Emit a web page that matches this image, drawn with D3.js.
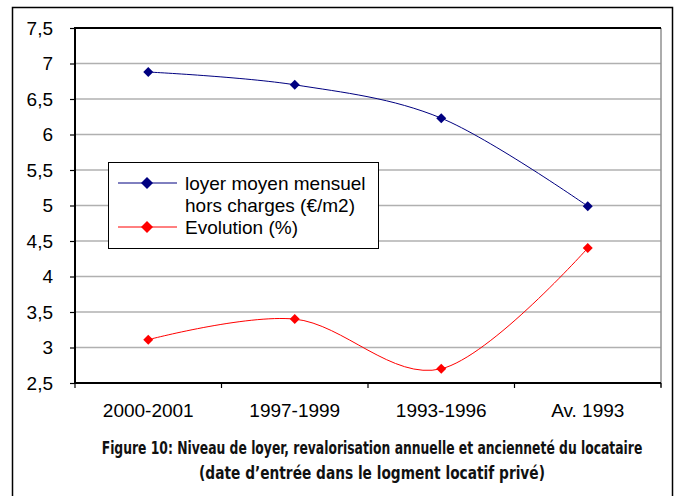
<!DOCTYPE html>
<html>
<head>
<meta charset="utf-8">
<script src="https://cdn.jsdelivr.net/npm/d3@7"></script>
<style>
body { margin:0; background:#fff; }
svg { display:block; }
</style>
</head>
<body>
<div id="chart"></div>
<script>
(function(){

var width = 679,
	height = 496,
	margin = {left:75, right:18, top:28, bottom:113};

// data
var categories = ["2000-2001","1997-1999","1993-1996","Av. 1993"];
var loyer = [6.88, 6.70, 6.23, 4.99];
var evolution = [3.11, 3.40, 2.70, 4.40];
var yTicks = [2.5,3,3.5,4,4.5,5,5.5,6,6.5,7,7.5];
var legendLabels = [["loyer moyen mensuel","hors charges (€/m2)"],["Evolution (%)"]];
var captionLines = ["Figure 10: Niveau de loyer, revalorisation annuelle et ancienneté du locataire",
	"(date d\u2019entrée dans le logment locatif privé)"];

var series = [
	{name:"loyer", values:loyer, color:"#000080"},
	{name:"evolution", values:evolution, color:"#ff0000"}
];

var svg = d3.select("#chart").append("svg")
	.attr("width", width)
	.attr("height", height);

// outer frame
svg.append("rect")
	.attr("x", 12.5).attr("y", 7.5)
	.attr("width", 660).attr("height", 500)
	.style("fill","none").style("stroke","#000").style("stroke-width",1.5);

var x0 = margin.left, x1 = width - margin.right,
	y0 = margin.top, y1 = height - margin.bottom;

var X = d3.scaleBand().domain(categories).range([x0, x1]);
var Y = d3.scaleLinear().domain([2.5,7.5]).range([y1, y0]);

var fmt = function(d){ return d3.format("")(d).replace(".",","); };

// square diamond marker
function diamond(r){
	return "M0,"+(-r)+"L"+r+",0L0,"+r+"L"+(-r)+",0Z";
}

// gridlines
svg.append("g").selectAll("line").data(yTicks.slice(1)).enter().append("line")
	.attr("x1", x0).attr("x2", x1)
	.attr("y1", function(d){return Y(d);}).attr("y2", function(d){return Y(d);})
	.style("stroke","#b0b0b0").style("stroke-width",1.5);

// right border (grey)
svg.append("line")
	.attr("x1", x1).attr("x2", x1).attr("y1", y0).attr("y2", y1+4)
	.style("stroke","#909090").style("stroke-width",1.5);

// y axis
var yAxis = d3.axisLeft(Y).tickValues(yTicks).tickFormat(fmt).tickSize(5).tickPadding(17);
var ga = svg.append("g").attr("transform","translate("+x0+",0)").call(yAxis);
ga.select(".domain").remove();
ga.selectAll("line").style("stroke","#000").style("stroke-width",1.2);
ga.selectAll("text").style("font-family","Liberation Sans, Arial, sans-serif")
	.style("font-size","19px").style("fill","#000");

// x axis ticks at category boundaries
var bounds = categories.map(function(d){return X(d);}).concat([x1]);
svg.append("g").selectAll("line").data(bounds).enter().append("line")
	.attr("x1", function(d){return d;}).attr("x2", function(d){return d;})
	.attr("y1", y1).attr("y2", y1+5)
	.style("stroke","#000").style("stroke-width",1.2);

svg.append("g").selectAll("text").data(categories).enter().append("text")
	.attr("x", function(d){return X(d)+X.bandwidth()/2;})
	.attr("y", y1+34)
	.attr("text-anchor","middle")
	.style("font-family","Liberation Sans, Arial, sans-serif")
	.style("font-size","19px")
	.text(function(d){return d;});

// top, left, bottom borders
svg.append("path")
	.attr("d", "M"+x1+","+y0+"H"+x0+"V"+y1+"H"+x1)
	.style("fill","none").style("stroke","#000").style("stroke-width",2);

// lines
var line = d3.line()
	.x(function(d,i){return X(categories[i])+X.bandwidth()/2;})
	.y(function(d){return Y(d);})
	.curve(d3.curveCatmullRom.alpha(0));

series.forEach(function(s){
	svg.append("path").datum(s.values)
		.attr("d", line)
		.style("fill","none").style("stroke",s.color).style("stroke-width",1);
	svg.append("g").selectAll("path").data(s.values).enter().append("path")
		.attr("d", diamond(5))
		.attr("transform", function(d,i){
			return "translate("+(X(categories[i])+X.bandwidth()/2)+","+Y(d)+")";
		})
		.style("fill", s.color);
});

// legend
var lg = svg.append("g");
lg.append("rect")
	.attr("x",108.5).attr("y",162.5).attr("width",270).attr("height",86)
	.style("fill","#fff").style("stroke","#000").style("stroke-width",1);

var legendRows = [{y:183, lines:legendLabels[0], color:series[0].color},
	{y:227, lines:legendLabels[1], color:series[1].color}];

legendRows.forEach(function(r){
	lg.append("line").attr("x1",118).attr("x2",177).attr("y1",r.y).attr("y2",r.y)
		.style("stroke",r.color).style("stroke-width",1);
	lg.append("path").attr("d", diamond(6))
		.attr("transform","translate(147,"+r.y+")").style("fill",r.color);
	r.lines.forEach(function(t,j){
		lg.append("text").attr("x",185).attr("y",r.y+7+j*22)
			.style("font-family","Liberation Sans, Arial, sans-serif")
			.style("font-size","19px")
			.text(t);
	});
});

// caption: condensed look by scaling horizontally to the widths seen in the figure
var capWidths = [541, 346];
svg.append("g").selectAll("text").data(captionLines).enter().append("text")
	.attr("x", 0)
	.attr("y", 0)
	.attr("text-anchor","middle")
	.style("font-family","DejaVu Sans Condensed, DejaVu Sans, sans-serif")
	.style("font-stretch","condensed")
	.style("font-weight","600")
	.style("font-size","18px")
	.style("fill","#111")
	.text(function(d){return d;})
	.each(function(d,i){
		var w = this.getComputedTextLength();
		d3.select(this).attr("transform",
			"translate(372,"+(454+i*25)+") scale("+(capWidths[i]/w)+",1)");
	});

})()
</script>
</body>
</html>
